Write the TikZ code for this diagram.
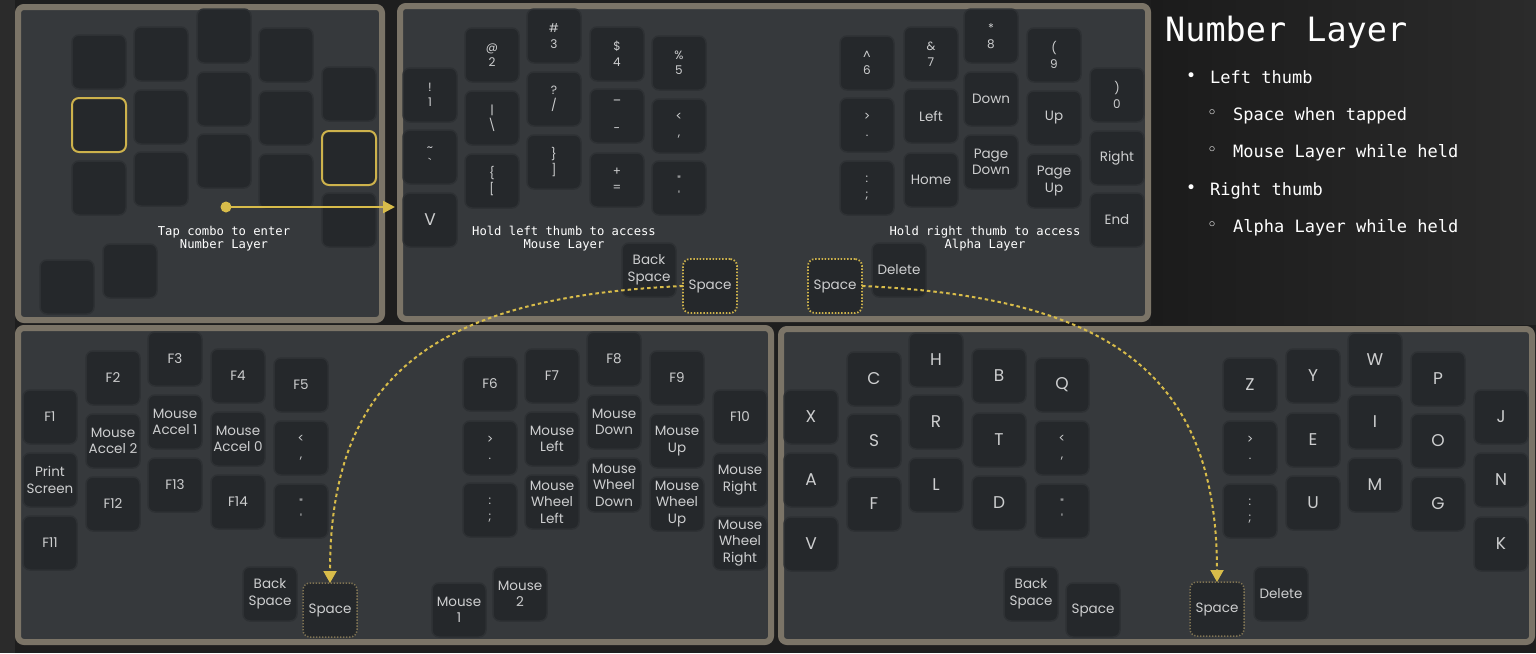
\documentclass[tikz,border=0pt]{standalone}
\usepackage{fontspec}
\setmainfont{Poppins}[Ligatures=TeXOff]
\newfontfamily\monofont{DejaVu Sans Mono}
\newfontfamily\symfont{DejaVu Sans}
\usetikzlibrary{arrows.meta}
\definecolor{bgdark}{HTML}{1E1E1E}
\definecolor{bgleft}{HTML}{2B2B2B}
\definecolor{panelfill}{HTML}{36393C}
\definecolor{panelborder}{HTML}{7B7467}
\definecolor{keyfill}{HTML}{25282B}
\definecolor{keyedge}{HTML}{2E3134}
\definecolor{keytext}{HTML}{CDCECF}
\definecolor{hlyellow}{HTML}{CDB24C}
\definecolor{dimyellow}{HTML}{807453}
\definecolor{flowyellow}{HTML}{D8BC4A}
\tikzset{
 kcap/.style={draw=keyedge, line width=1.5pt, fill=keyfill, rounded corners=7pt,
   minimum width=54pt, minimum height=54pt, inner sep=0pt, outer sep=0pt,
   anchor=north west, text=keytext, align=center, font=\fontsize{13.5}{16.5}\selectfont},
 ksym/.style={font=\fontsize{12}{15.5}\selectfont},
 klet/.style={font=\fontsize{17}{20}\selectfont},
 khl/.style={draw=hlyellow, line width=2pt},
 kdot/.style={draw=hlyellow, line width=1.8pt, dash pattern=on 1.5pt off 1.7pt},
 kdim/.style={draw=dimyellow, line width=1.5pt, dash pattern=on 1.3pt off 1.7pt},
 panel/.style={fill=panelfill, draw=panelborder, line width=6pt, rounded corners=6pt},
 note/.style={font=\monofont\fontsize{12.2}{13}\selectfont, text=white, align=center, inner sep=0pt},
 flow/.style={draw=flowyellow, line width=2pt, dash pattern=on 3.5pt off 3pt, -{Triangle[width=13pt,length=12pt]}},
 listtext/.style={font=\monofont\fontsize{17}{20}\selectfont, text=white, anchor=base west, inner sep=0pt},
 bul/.style={font=\symfont\fontsize{17}{20}\selectfont, text=white, inner sep=0pt},
}
\newcommand\kk[4][]{\node[kcap,#1] (#2) at (#3) {#4};}
\begin{document}
\begin{tikzpicture}[x=1pt,y=-1pt]
\useasboundingbox (0,0) rectangle (1536,653);
% background
\fill[bgdark] (0,0) rectangle (1536,653);
\fill[bgleft] (0,0) rectangle (15,653);
\shade[left color=bgdark!90!black, right color=bgleft] (1151,0) rectangle (1536,324);
% panels
\draw[panel] (18,7) rectangle (382,320);
\draw[panel] (400,6) rectangle (1148,319);
\draw[panel] (18,328) rectangle (771,642);
\draw[panel] (781,329) rectangle (1532,642);
% ---------- panel A (blank) ----------
\kk{a1}{72,35}{}
\kk[khl]{a2}{72,98}{}
\kk{a3}{72,161}{}
\kk{a4}{134,27}{}
\kk{a5}{134,90}{}
\kk{a6}{134,152}{}
\kk{a7}{197,9}{}
\kk{a8}{197,72}{}
\kk{a9}{197,134}{}
\kk{a10}{259,28}{}
\kk{a11}{259,91}{}
\kk{a12}{259,154}{}
\kk{a13}{322,67}{}
\kk[khl]{a14}{322,131}{}
\kk{a15}{322,193}{}
\kk{a16}{40,260}{}
\kk{a17}{103,244}{}
% ---------- panel B ----------
\kk[ksym]{b1}{403,68}{!\\1}
\kk[ksym]{b2}{403,130}{\textasciitilde\\`}
\kk[klet]{b3}{403,193}{V}
\kk[ksym]{b4}{465,28}{@\\2}
\kk[ksym]{b5}{465,91}{|\\\textbackslash}
\kk[ksym]{b6}{465,154}{\{\\{[}}
\kk[ksym]{b7}{527,9}{\#\\3}
\kk[ksym]{b8}{527,72}{?\\/}
\kk[ksym]{b9}{527,135}{\}\\]}
\kk[ksym]{b10}{590,27}{\$\\4}
\kk[ksym]{b11}{590,89}{\_\\[18pt]-}
\kk[ksym]{b12}{590,153}{+\\=}
\kk[ksym]{b13}{652,36}{\%\\5}
\kk[ksym]{b14}{652,99}{<\\,}
\kk[ksym]{b15}{652,161}{"\\'}
\kk{b16}{622,243}{Back\\Space}
\kk[kdot]{b17}{683,259}{Space}
\kk[ksym]{b18}{840,36}{\textasciicircum\\6}
\kk[ksym]{b19}{840,98}{>\\.}
\kk[ksym]{b20}{840,161}{:\\;}
\kk[ksym]{b21}{904,27}{\&\\7}
\kk{b22}{904,89}{Left}
\kk{b23}{904,153}{Home}
\kk[ksym]{b24}{964,9}{*\\8}
\kk{b25}{964,72}{Down}
\kk{b26}{964,135}{Page\\Down}
\kk[ksym]{b27}{1027,28}{(\\9}
\kk{b28}{1027,91}{Up}
\kk{b29}{1027,154}{Page\\Up}
\kk[ksym]{b30}{1090,68}{)\\0}
\kk{b31}{1090,131}{Right}
\kk{b32}{1090,193}{End}
\kk[kdot]{b33}{808,259}{Space}
\kk{b34}{872,243}{Delete}
% ---------- panel C ----------
\kk{c1}{23,390}{F1}
\kk{c2}{23,453}{Print\\Screen}
\kk{c3}{23,516}{F11}
\kk{c4}{86,351}{F2}
\kk{c5}{86,414}{Mouse\\Accel 2}
\kk{c6}{86,477}{F12}
\kk{c7}{148,332}{F3}
\kk{c8}{148,395}{Mouse\\Accel 1}
\kk{c9}{148,458}{F13}
\kk{c10}{211,349}{F4}
\kk{c11}{211,412}{Mouse\\Accel 0}
\kk{c12}{211,475}{F14}
\kk{c13}{274,358}{F5}
\kk[ksym]{c14}{274,421}{<\\,}
\kk[ksym]{c15}{274,484}{"\\'}
\kk{c16}{243,567}{Back\\Space}
\kk[kdim]{c17}{303,583}{Space}
\kk{c18}{463,357}{F6}
\kk[ksym]{c19}{463,421}{>\\.}
\kk[ksym]{c20}{463,483}{:\\;}
\kk{c21}{525,349}{F7}
\kk{c22}{525,412}{Mouse\\Left}
\kk{c23}{525,475}{Mouse\\Wheel\\Left}
\kk{c24}{587,332}{F8}
\kk{c25}{587,395}{Mouse\\Down}
\kk{c26}{587,458}{Mouse\\Wheel\\Down}
\kk{c27}{650,351}{F9}
\kk{c28}{650,414}{Mouse\\Up}
\kk{c29}{650,477}{Mouse\\Wheel\\Up}
\kk{c30}{713,390}{F10}
\kk{c31}{713,453}{Mouse\\Right}
\kk{c32}{713,516}{Mouse\\Wheel\\Right}
\kk{c33}{432,583}{Mouse\\1}
\kk{c34}{493,567}{Mouse\\2}
% ---------- panel D ----------
\kk[klet]{d1}{784,390}{X}
\kk[klet]{d2}{784,453}{A}
\kk[klet]{d3}{784,517}{V}
\kk[klet]{d4}{847,352}{C}
\kk[klet]{d5}{847,414}{S}
\kk[klet]{d6}{847,477}{F}
\kk[klet]{d7}{909,333}{H}
\kk[klet]{d8}{909,395}{R}
\kk[klet]{d9}{909,458}{L}
\kk[klet]{d10}{972,349}{B}
\kk[klet]{d11}{972,413}{T}
\kk[klet]{d12}{972,476}{D}
\kk[klet]{d13}{1035,358}{Q}
\kk[ksym]{d14}{1035,421}{<\\,}
\kk[ksym]{d15}{1035,484}{"\\'}
\kk{d16}{1004,567}{Back\\Space}
\kk{d17}{1066,583}{Space}
\kk[klet]{d18}{1223,358}{Z}
\kk[ksym]{d19}{1223,421}{>\\.}
\kk[ksym]{d20}{1223,484}{:\\;}
\kk[klet]{d21}{1286,349}{Y}
\kk[klet]{d22}{1286,413}{E}
\kk[klet]{d23}{1286,476}{U}
\kk[klet]{d24}{1348,333}{W}
\kk[klet]{d25}{1348,395}{I}
\kk[klet]{d26}{1348,458}{M}
\kk[klet]{d27}{1411,352}{P}
\kk[klet]{d28}{1411,414}{O}
\kk[klet]{d29}{1411,477}{G}
\kk[klet]{d30}{1474,390}{J}
\kk[klet]{d31}{1474,453}{N}
\kk[klet]{d32}{1474,517}{K}
\kk[kdim]{d33}{1190,582}{Space}
\kk{d34}{1254,567}{Delete}
% ---------- notes ----------
\node[note] (noteA) at (224,239) {Tap combo to enter\\Number Layer};
\node[note] (noteB) at (564,239) {Hold left thumb to access\\Mouse Layer};
\node[note] (noteC) at (985,239) {Hold right thumb to access\\Alpha Layer};
% ---------- right text ----------
\node[anchor=base west, inner sep=0pt, text=white, font=\monofont\fontsize{33.5}{40}\selectfont] (title) at (1165,41) {Number Layer};
\node[bul] (bu1) at (1191,77) {•};
\node[listtext] (li1) at (1210,83) {Left thumb};
\node[bul] (bu2) at (1212,114) {◦};
\node[listtext] (li2) at (1233,120) {Space when tapped};
\node[bul] (bu3) at (1212,151) {◦};
\node[listtext] (li3) at (1233,157) {Mouse Layer while held};
\node[bul] (bu4) at (1191,189) {•};
\node[listtext] (li4) at (1210,195) {Right thumb};
\node[bul] (bu5) at (1212,226) {◦};
\node[listtext] (li5) at (1233,232) {Alpha Layer while held};
% ---------- connectors ----------
\node[circle, fill=flowyellow, inner sep=0pt, minimum size=11pt] (tapdot) at (226,207) {};
\coordinate (tapend) at (395,207);
\draw[flowyellow, line width=2.5pt, -{Triangle[width=12pt,length=12pt]}] (tapdot.center) -- (tapend);
\draw[flow] (b17.west) .. controls +(-243,11) and +(0,-212) .. (c17.north);
\draw[flow] (b33.east) .. controls +(243,11) and +(0,-212) .. (d33.north);
\end{tikzpicture}
\end{document}
